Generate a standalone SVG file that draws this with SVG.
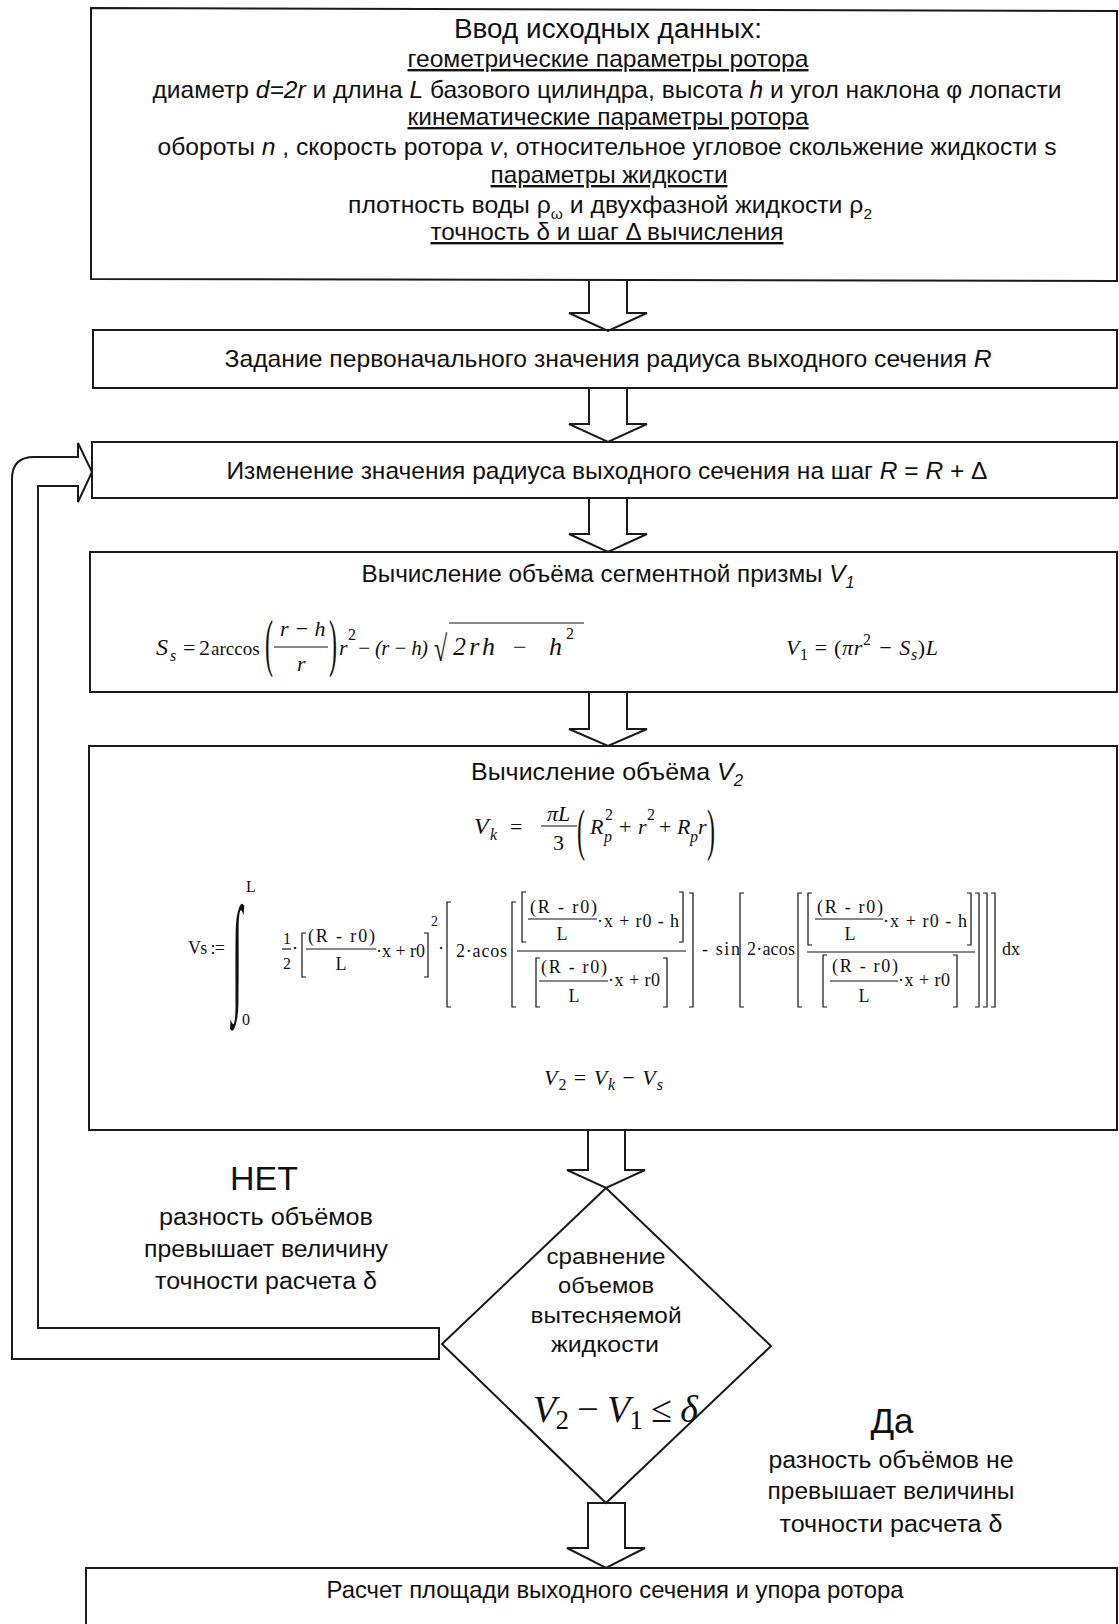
<svg xmlns="http://www.w3.org/2000/svg" width="1119" height="1624" viewBox="0 0 1119 1624">
<style>
.box{fill:none;stroke:#1a1a1a;stroke-width:2}
.arr{fill:none;stroke:#1a1a1a;stroke-width:2;stroke-linejoin:miter}
.t{font-family:"Liberation Sans",Arial,sans-serif;font-size:24px;fill:#111}
.c{text-anchor:middle}
.u{text-decoration:underline}
.i{font-style:italic}
.m{font-family:"Liberation Serif","Times New Roman",serif;font-style:italic;font-size:22px;fill:#111}
.n{font-family:"Liberation Serif","Times New Roman",serif;font-size:22px;fill:#111}
.f{font-family:"Liberation Serif","Times New Roman",serif;font-size:18px;fill:#111}
.br{fill:none;stroke:#111;stroke-width:1.2}
.bar{stroke:#111;stroke-width:1.2}
</style>
<rect width="1119" height="1624" fill="#fff"/>

<g id="connectors">
  <path class="arr" d="M589,281 V313 H569 L608,331 L647,313 H627 V281"/>
  <path class="arr" d="M589,388 V424 H569 L608,442 L647,424 H627 V388"/>
  <path class="arr" d="M589,498 V534 H569 L608,552 L647,534 H627 V498"/>
  <path class="arr" d="M589,692 V729 H569 L608,746 L647,729 H627 V692"/>
  <path class="arr" d="M588,1130 V1170 H567 L606,1188 L645,1170 H625 V1130"/>
  <path class="arr" d="M588,1503 H625 V1548 H645 L606,1568 L567,1548 H588 Z"/>
  <path class="arr" d="M439,1328 H38 V486 H78 V502 L92,472 L78,443 V457 H34 Q12,457 12,479 V1359 H439 Z"/>
</g>

<g id="input">
  <path class="box" d="M91,8 L1117,11 V281 L91,279 Z"/>
  <text class="t c" x="608" y="38" style="font-size:27px" textLength="308" lengthAdjust="spacingAndGlyphs">Ввод исходных данных:</text>
  <text class="t c u" x="608" y="67" textLength="401" lengthAdjust="spacingAndGlyphs">геометрические параметры ротора</text>
  <text class="t c" x="607" y="98" textLength="909" lengthAdjust="spacingAndGlyphs">диаметр <tspan class="i">d=2r</tspan> и длина <tspan class="i">L</tspan> базового цилиндра, высота <tspan class="i">h</tspan> и угол наклона φ лопасти</text>
  <text class="t c u" x="608" y="125" textLength="401" lengthAdjust="spacingAndGlyphs">кинематические параметры ротора</text>
  <text class="t c" x="607" y="155" textLength="899" lengthAdjust="spacingAndGlyphs">обороты <tspan class="i">n</tspan> , скорость ротора <tspan class="i">v</tspan>, относительное угловое скольжение жидкости s</text>
  <text class="t c u" x="609" y="183" textLength="237" lengthAdjust="spacingAndGlyphs">параметры жидкости</text>
  <text class="t c" x="610" y="213" textLength="524" lengthAdjust="spacingAndGlyphs">плотность воды  ρ<tspan dy="6" font-size="15">ω</tspan><tspan dy="-6"> и двухфазной жидкости ρ</tspan><tspan dy="6" font-size="15">2</tspan></text>
  <text class="t c u" x="607" y="240" textLength="353" lengthAdjust="spacingAndGlyphs">точность δ и шаг Δ вычисления</text>
</g>

<g id="init-R">
  <rect class="box" x="93" y="330" width="1024" height="58"/>
  <text class="t c" x="608" y="367" textLength="767" lengthAdjust="spacingAndGlyphs">Задание первоначального значения радиуса выходного сечения <tspan class="i">R</tspan></text>
</g>

<g id="step-R">
  <rect class="box" x="92" y="442" width="1025" height="56"/>
  <text class="t c" x="607" y="479" textLength="761" lengthAdjust="spacingAndGlyphs">Изменение значения радиуса выходного сечения на шаг <tspan class="i">R</tspan> = <tspan class="i">R</tspan> + Δ</text>
</g>

<g id="calc-V1">
  <rect class="box" x="90" y="552" width="1027" height="140"/>
  <text class="t c" x="608" y="582" textLength="493" lengthAdjust="spacingAndGlyphs">Вычисление объёма сегментной призмы <tspan class="i">V</tspan><tspan dy="6" font-size="16" class="i">1</tspan></text>
  <text class="m" x="156" y="655" style="font-size:24px">S</text>
  <text class="m" x="170" y="661" style="font-size:16px">s</text>
  <text class="n" x="183" y="655">=</text>
  <text class="n" x="199" y="655">2</text>
  <text class="n" x="211" y="655" style="font-size:19px">arccos</text>
  <text class="n" transform="translate(265,664) scale(1,2.6)" style="font-size:24px">(</text>
  <text class="m" x="280" y="636">r − h</text>
  <line class="bar" x1="274" y1="647" x2="328" y2="647"/>
  <text class="m" x="297" y="671">r</text>
  <text class="n" transform="translate(329,664) scale(1,2.6)" style="font-size:24px">)</text>
  <text class="m" x="339" y="655">r</text>
  <text class="n" x="348" y="640" style="font-size:16px">2</text>
  <text class="m" x="357" y="655" style="font-size:21px" textLength="71" lengthAdjust="spacing">− (r − h)</text>
  <text class="n" transform="translate(434,661) scale(1,1.5)" style="font-size:24px">√</text>
  <line class="bar" x1="449" y1="623" x2="584" y2="623"/>
  <text class="m" x="453" y="655" style="font-size:26px" textLength="42" lengthAdjust="spacing">2rh</text>
  <text class="n" x="513" y="655" style="font-size:24px">−</text>
  <text class="m" x="549" y="655" style="font-size:26px">h</text>
  <text class="n" x="566" y="639" style="font-size:16px">2</text>
  <text class="m" x="786" y="655" textLength="152" lengthAdjust="spacing">V<tspan dy="5" font-size="16" font-style="normal">1</tspan><tspan dy="-5" font-style="normal"> = (</tspan>πr<tspan dy="-10" font-size="16" font-style="normal">2</tspan><tspan dy="10"> − S</tspan><tspan dy="5" font-size="16">s</tspan><tspan dy="-5" font-style="normal">)</tspan>L</text>
</g>

<g id="calc-V2">
  <rect class="box" x="89" y="746" width="1028" height="384"/>
  <text class="t c" x="607" y="780" textLength="272" lengthAdjust="spacingAndGlyphs">Вычисление объёма  <tspan class="i">V</tspan><tspan dy="6" font-size="16" class="i">2</tspan></text>
  <text class="m" x="474" y="834" style="font-size:24px">V</text>
  <text class="m" x="490" y="840" style="font-size:16px">k</text>
  <text class="n" x="510" y="834">=</text>
  <text class="m" x="547" y="821">πL</text>
  <line class="bar" x1="541" y1="826" x2="577" y2="826"/>
  <text class="n" x="553" y="850">3</text>
  <text class="n" transform="translate(577,849) scale(1,2.4)" style="font-size:24px">(</text>
  <text class="m" x="590" y="834">R</text>
  <text class="n" x="605" y="820" style="font-size:16px">2</text>
  <text class="m" x="604" y="842" style="font-size:16px">p</text>
  <text class="n" x="619" y="834">+</text>
  <text class="m" x="638" y="834">r</text>
  <text class="n" x="647" y="820" style="font-size:16px">2</text>
  <text class="n" x="659" y="834">+</text>
  <text class="m" x="677" y="834">R</text>
  <text class="m" x="690" y="842" style="font-size:16px">p</text>
  <text class="m" x="698" y="834">r</text>
  <text class="n" transform="translate(707,849) scale(1,2.4)" style="font-size:24px">)</text>

  <text class="f" x="188" y="954" textLength="37" lengthAdjust="spacing">Vs :=</text>
  <text class="f" transform="translate(232,996) scale(1,3.4)" style="font-size:38px">∫</text>
  <text class="f" x="246" y="892" style="font-size:16px">L</text>
  <text class="f" x="242" y="1025" style="font-size:16px">0</text>
  <text class="f" x="283" y="944" style="font-size:16px">1</text>
  <line class="bar" x1="282" y1="949" x2="291" y2="949"/>
  <text class="f" x="283" y="969" style="font-size:16px">2</text>
  <text class="f" x="292" y="954">·</text>
  <path class="br" d="M306,933 H302 V977 H306"/>
  <text class="f" x="308" y="942" textLength="67" lengthAdjust="spacing">(R - r0)</text>
  <line class="bar" x1="306" y1="949" x2="376" y2="949"/>
  <text class="f c" x="341" y="970">L</text>
  <text class="f" x="376" y="957" textLength="49" lengthAdjust="spacing">·x + r0</text>
  <path class="br" d="M424,933 H428 V977 H424"/>
  <text class="f" x="431" y="926" style="font-size:14px">2</text>
  <text class="f" x="438" y="954">·</text>
  <path class="br" d="M451,902 H447 V1007 H451"/>
  <text class="f" x="456" y="957" textLength="51" lengthAdjust="spacing">2·acos</text>
  <path class="br" d="M516,902 H512 V1007 H516"/>
  <path class="br" d="M526,892 H522 V942 H526"/>
  <text class="f" x="530" y="913" textLength="67" lengthAdjust="spacing">(R - r0)</text>
  <line class="bar" x1="528" y1="919" x2="597" y2="919"/>
  <text class="f c" x="562" y="940">L</text>
  <text class="f" x="597" y="927" textLength="82" lengthAdjust="spacing">·x + r0 - h</text>
  <path class="br" d="M679,892 H683 V942 H679"/>
  <line class="bar" x1="517" y1="951" x2="686" y2="951"/>
  <path class="br" d="M540,958 H536 V1007 H540"/>
  <text class="f" x="541" y="973" textLength="66" lengthAdjust="spacing">(R - r0)</text>
  <line class="bar" x1="539" y1="981" x2="608" y2="981"/>
  <text class="f c" x="574" y="1002">L</text>
  <text class="f" x="608" y="986" textLength="52" lengthAdjust="spacing">·x + r0</text>
  <path class="br" d="M663,958 H667 V1007 H663"/>
  <path class="br" d="M689,893 H693 V1007 H689"/>
  <text class="f" x="702" y="955" textLength="38" lengthAdjust="spacing">- sin</text>
  <path class="br" d="M744,893 H740 V1007 H744"/>
  <text class="f" x="747" y="955" textLength="48" lengthAdjust="spacing">2·acos</text>
  <path class="br" d="M802,893 H798 V1007 H802"/>
  <path class="br" d="M812,893 H808 V945 H812"/>
  <text class="f" x="817" y="913" textLength="66" lengthAdjust="spacing">(R - r0)</text>
  <line class="bar" x1="815" y1="919" x2="883" y2="919"/>
  <text class="f c" x="850" y="940">L</text>
  <text class="f" x="883" y="927" textLength="84" lengthAdjust="spacing">·x + r0 - h</text>
  <path class="br" d="M967,893 H971 V945 H967"/>
  <line class="bar" x1="807" y1="952" x2="975" y2="952"/>
  <path class="br" d="M827,955 H823 V1007 H827"/>
  <text class="f" x="832" y="972" textLength="66" lengthAdjust="spacing">(R - r0)</text>
  <line class="bar" x1="830" y1="981" x2="898" y2="981"/>
  <text class="f c" x="864" y="1002">L</text>
  <text class="f" x="898" y="986" textLength="52" lengthAdjust="spacing">·x + r0</text>
  <path class="br" d="M953,955 H957 V1007 H953"/>
  <path class="br" d="M975,893 H979 V1007 H975"/>
  <path class="br" d="M983,893 H987 V1007 H983"/>
  <path class="br" d="M991,893 H995 V1007 H991"/>
  <text class="f" x="1002" y="955">dx</text>

  <text class="m" x="544" y="1085" textLength="119" lengthAdjust="spacing">V<tspan dy="5" font-size="16" font-style="normal">2</tspan><tspan dy="-5" font-style="normal"> = </tspan>V<tspan dy="5" font-size="16">k</tspan><tspan dy="-5" font-style="normal"> − </tspan>V<tspan dy="5" font-size="16">s</tspan></text>
</g>

<g id="compare">
  <polygon class="box" points="606,1188 771,1346 606,1503 442,1344"/>
  <text class="t c" x="606" y="1264" style="font-size:22px" textLength="119" lengthAdjust="spacingAndGlyphs">сравнение</text>
  <text class="t c" x="606" y="1293" style="font-size:22px" textLength="96" lengthAdjust="spacingAndGlyphs">объемов</text>
  <text class="t c" x="606" y="1323" style="font-size:22px" textLength="151" lengthAdjust="spacingAndGlyphs">вытесняемой</text>
  <text class="t c" x="605" y="1352" style="font-size:22px" textLength="108" lengthAdjust="spacingAndGlyphs">жидкости</text>
  <text class="m" x="533" y="1422" style="font-size:38px" textLength="165" lengthAdjust="spacing">V<tspan dy="7" font-size="27" font-style="normal">2</tspan><tspan dy="-7" font-style="normal"> − </tspan>V<tspan dy="7" font-size="27" font-style="normal">1</tspan><tspan dy="-7" font-style="normal"> ≤ </tspan>δ</text>
</g>

<g id="label-no">
  <text class="t c" x="264" y="1190" style="font-size:34px">НЕТ</text>
  <text class="t c" x="266" y="1225" style="font-size:23px" textLength="214" lengthAdjust="spacingAndGlyphs">разность объёмов</text>
  <text class="t c" x="266" y="1257" style="font-size:23px" textLength="244" lengthAdjust="spacingAndGlyphs">превышает величину</text>
  <text class="t c" x="266" y="1289" style="font-size:23px" textLength="222" lengthAdjust="spacingAndGlyphs">точности расчета δ</text>
</g>

<g id="label-yes">
  <text class="t c" x="892" y="1433" style="font-size:35px">Да</text>
  <text class="t c" x="891" y="1468" style="font-size:23px" textLength="245" lengthAdjust="spacingAndGlyphs">разность объёмов не</text>
  <text class="t c" x="891" y="1499" style="font-size:23px" textLength="247" lengthAdjust="spacingAndGlyphs">превышает величины</text>
  <text class="t c" x="891" y="1532" style="font-size:23px" textLength="223" lengthAdjust="spacingAndGlyphs">точности расчета δ</text>
</g>

<g id="result">
  <path class="box" d="M86,1630 V1568 H1117 V1630"/>
  <text class="t c" x="615" y="1598" textLength="577" lengthAdjust="spacingAndGlyphs">Расчет площади выходного сечения и упора ротора</text>
</g>
</svg>
